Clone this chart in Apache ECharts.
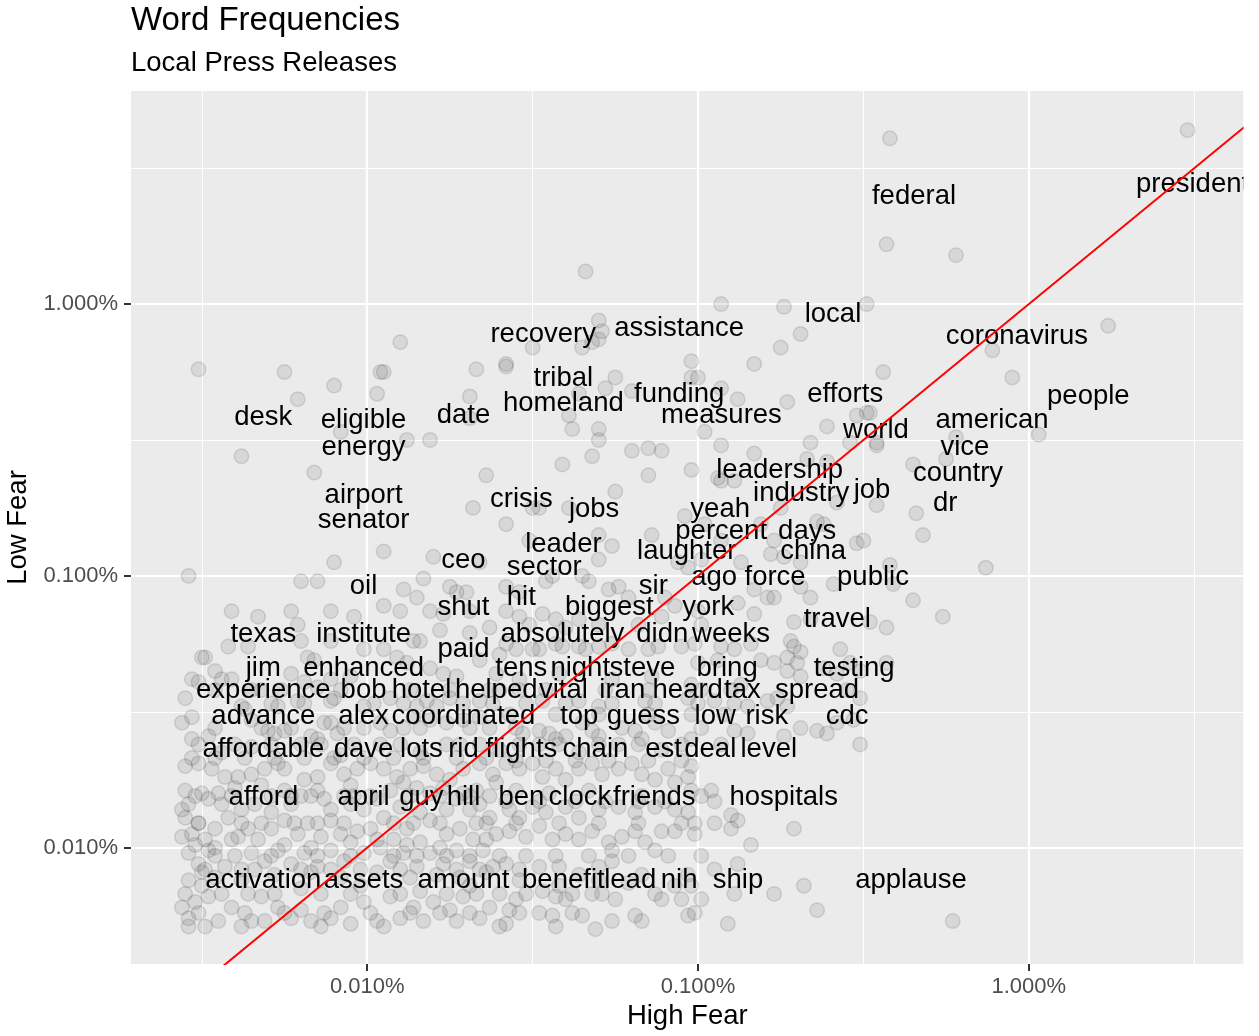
<!DOCTYPE html>
<html><head><meta charset="utf-8">
<script src="https://cdn.jsdelivr.net/npm/echarts@6/dist/echarts.min.js"></script>
<style>html,body{margin:0;padding:0;background:#fff}#c{width:1259px;height:1036px}</style>
</head><body><div id="c"></div>
<script>
// Values are log10 of word proportions (High Fear on x, Low Fear on y)
const words = ['federal','president','local','recovery','assistance','coronavirus','tribal','homeland','funding','measures','efforts','people','desk','eligible','date','american','world','energy','vice','leadership','country','industry','job','airport','crisis','jobs','yeah','dr','senator','percent','days','leader','laughter','china','ceo','sector','oil','sir','ago','force','public','hit','shut','biggest','york','texas','institute','absolutely','didn','weeks','travel','paid','jim','enhanced','tens','night','steve','bring','testing','experience','bob','hotel','helped','vital','iran','heard','tax','spread','advance','alex','coordinated','top','guess','low','risk','cdc','affordable','dave','lots','rid','flights','chain','est','deal','level','afford','april','guy','hill','ben','clock','friends','hospitals','activation','assets','amount','benefit','lead','nih','ship','applause'];
const wordHighFear = [-2.347,-1.505,-2.592,-3.468,-3.057,-2.036,-3.407,-3.407,-3.057,-2.929,-2.555,-1.820,-4.314,-4.011,-3.709,-2.111,-2.462,-4.011,-2.193,-2.753,-2.214,-2.688,-2.474,-4.011,-3.534,-3.314,-2.933,-2.253,-4.011,-2.930,-2.670,-3.407,-3.034,-2.652,-3.709,-3.465,-4.011,-3.135,-2.951,-2.767,-2.471,-3.534,-3.709,-3.268,-2.969,-4.314,-4.011,-3.410,-3.108,-2.900,-2.579,-3.709,-4.314,-4.011,-3.534,-3.356,-3.168,-2.912,-2.528,-4.314,-4.011,-3.836,-3.610,-3.407,-3.229,-3.031,-2.866,-2.640,-4.314,-4.011,-3.709,-3.359,-3.165,-2.948,-2.792,-2.549,-4.314,-4.011,-3.836,-3.709,-3.534,-3.310,-3.104,-2.963,-2.786,-4.314,-4.011,-3.836,-3.709,-3.534,-3.357,-3.132,-2.741,-4.314,-4.011,-3.709,-3.407,-3.205,-3.057,-2.879,-2.356];
const wordLowFear = [-1.529,-1.485,-1.963,-2.037,-2.015,-2.044,-2.199,-2.293,-2.259,-2.335,-2.259,-2.265,-2.342,-2.353,-2.335,-2.353,-2.390,-2.453,-2.453,-2.537,-2.548,-2.622,-2.611,-2.629,-2.644,-2.682,-2.682,-2.659,-2.721,-2.763,-2.763,-2.809,-2.835,-2.835,-2.868,-2.894,-2.966,-2.966,-2.931,-2.931,-2.931,-3.004,-3.043,-3.043,-3.043,-3.141,-3.141,-3.141,-3.141,-3.141,-3.085,-3.198,-3.266,-3.266,-3.266,-3.266,-3.266,-3.266,-3.266,-3.347,-3.347,-3.347,-3.347,-3.347,-3.347,-3.347,-3.347,-3.347,-3.442,-3.442,-3.442,-3.442,-3.442,-3.442,-3.442,-3.442,-3.564,-3.564,-3.564,-3.564,-3.564,-3.564,-3.564,-3.564,-3.564,-3.740,-3.740,-3.740,-3.740,-3.740,-3.740,-3.740,-3.740,-4.046,-4.046,-4.046,-4.046,-4.046,-4.046,-4.046,-4.046];
// jittered word points [High Fear, Low Fear]
const jitteredPoints = [
[-3.34,-1.88],[-2.93,-2.00],[-2.74,-2.01],[-2.49,-2.00],[-2.42,-1.39],[-2.43,-1.78],[-2.22,-1.82],[-1.52,-1.36],
[-4.51,-2.24],[-4.25,-2.25],[-4.21,-2.35],[-4.10,-2.30],[-3.96,-2.25],[-3.95,-2.25],[-3.90,-2.14],[-3.97,-2.33],[-3.67,-2.24],[-3.69,-2.34],[-3.69,-2.42],[-4.08,-2.47],[-3.88,-2.50],[-3.81,-2.50],[-4.38,-2.56],[-4.16,-2.62],[-3.64,-2.63],[-3.68,-2.75],[-3.58,-2.23],
[-3.30,-2.06],[-3.29,-2.10],[-3.30,-2.13],[-3.32,-2.14],[-3.35,-2.16],[-3.50,-2.16],[-3.58,-2.22],[-3.25,-2.27],[-3.28,-2.31],[-3.36,-2.33],[-3.39,-2.41],[-3.38,-2.46],[-3.30,-2.46],[-3.30,-2.50],[-3.32,-2.56],[-3.41,-2.59],[-3.20,-2.54],[-3.15,-2.53],[-3.11,-2.54],[-3.15,-2.63],[-3.02,-2.61],[-3.25,-2.69],[-3.39,-2.75],[-3.50,-2.75],[-3.48,-2.75],[-3.58,-2.81],
[-3.02,-2.21],[-3.00,-2.27],[-3.02,-2.27],[-2.93,-2.31],[-2.88,-2.35],[-3.20,-2.32],[-2.98,-2.47],[-2.93,-2.52],[-2.83,-2.55],[-2.83,-2.22],[-2.75,-2.16],[-2.69,-2.11],[-2.73,-2.36],[-2.61,-2.45],[-2.66,-2.51],[-2.67,-2.57],[-2.61,-2.58],[-2.52,-2.41],[-2.49,-2.40],[-2.54,-2.51],[-2.94,-2.64],[-2.93,-2.65],[-2.89,-2.65],[-2.75,-2.75],[-2.58,-2.73],[-3.04,-2.78],[-2.64,-2.80],[-2.62,-2.81],
[-1.76,-2.08],[-2.11,-2.17],[-2.44,-2.25],[-2.05,-2.27],[-2.48,-2.40],[-2.46,-2.51],[-2.46,-2.52],[-2.22,-2.49],[-1.97,-2.48],[-2.25,-2.57],[-2.35,-2.59],[-2.46,-2.74],[-2.34,-2.77],[-2.32,-2.85],
[-2.42,-2.96],[-2.41,-3.03],[-2.13,-2.97],[-2.35,-3.09],[-2.26,-3.15],[-2.43,-3.19],[-2.48,-3.17],[-2.43,-3.32],
[-4.54,-3.00],[-4.10,-2.95],[-3.95,-2.91],[-4.20,-3.02],[-4.15,-3.02],[-3.80,-2.93],[-3.66,-2.95],[-3.83,-3.01],[-3.89,-3.05],[-3.85,-3.08],[-3.95,-3.11],[-4.04,-3.15],[-4.33,-3.15],[-4.21,-3.18],[-3.75,-3.04],[-3.73,-3.06],[-3.70,-3.06],[-3.69,-3.13],[-3.77,-3.14],[-3.63,-3.19],[-3.69,-3.21],[-3.84,-3.24],[-3.86,-3.24],[-4.11,-3.24],[-4.20,-3.24],[-4.42,-3.26],[-4.36,-3.26],[-4.50,-3.30],[-4.49,-3.30],[-4.46,-3.35],[-4.53,-3.38],[-4.51,-3.39],[-4.44,-3.38],[-4.41,-3.38],[-4.23,-3.36],[-4.18,-3.30],[-4.16,-3.31],[-4.01,-3.27],[-3.95,-3.27],[-3.91,-3.30],[-3.88,-3.32],[-3.81,-3.34],[-3.77,-3.36],[-3.73,-3.37],[-3.66,-3.31],[-3.61,-3.36],[-4.19,-3.39],[-4.15,-3.41],[-4.11,-3.38],
[-4.29,-3.47],[-4.27,-3.48],[-4.21,-3.46],[-4.19,-3.47],[-4.11,-3.46],[-4.10,-3.45],[-4.01,-3.48],[-3.98,-3.47],[-3.93,-3.45],[-3.89,-3.47],[-3.85,-3.48],[-3.82,-3.46],[-3.79,-3.48],[-3.75,-3.45],[-3.71,-3.47],[-3.66,-3.46],[-3.62,-3.47],[-4.56,-3.54],[-4.53,-3.52],[-4.38,-3.48],[-4.37,-3.49],[-4.13,-3.54],[-4.11,-3.54],[-4.01,-3.56],[-3.96,-3.54],[-3.93,-3.57],[-3.89,-3.56],[-4.09,-3.58],[-3.86,-3.52],[-3.81,-3.53],[-3.76,-3.54],[-3.71,-3.53],[-3.66,-3.52],[-3.63,-3.56],[-4.53,-3.60],[-4.48,-3.59],[-4.30,-3.57],[-4.28,-3.58],[-4.25,-3.57],[-4.17,-3.59],[-4.15,-3.60],
[-3.30,-2.94],[-3.26,-2.89],[-3.58,-3.04],[-3.54,-3.06],[-3.46,-3.02],[-3.44,-3.00],[-3.35,-3.00],[-3.33,-3.02],[-3.27,-3.05],[-3.24,-3.04],[-3.21,-3.08],[-3.06,-2.95],[-3.03,-2.97],[-2.99,-2.94],[-2.87,-2.95],[-2.78,-2.92],[-2.74,-2.93],[-2.69,-2.95],[-2.52,-2.88],[-2.50,-2.87],[-2.83,-3.05],[-2.79,-3.08],[-2.77,-3.08],[-2.69,-3.04],[-2.66,-3.08],[-2.59,-3.03],
[-3.47,-3.14],[-3.43,-3.16],[-3.40,-3.19],[-3.36,-3.16],[-3.58,-3.13],[-3.54,-3.15],[-3.10,-3.08],[-3.07,-3.11],[-3.11,-3.15],[-3.00,-3.13],[-2.88,-3.10],[-2.83,-3.14],[-2.71,-3.17],[-2.66,-3.16],[-2.72,-3.24],[-2.71,-3.26],[-2.69,-3.28],[-2.57,-3.27],[-2.73,-3.30],[-2.70,-3.32],[-2.93,-3.26],[-2.89,-3.27],[-2.84,-3.25],[-3.05,-3.26],[-3.01,-3.25],[-3.15,-3.27],[-3.12,-3.26],[-3.21,-3.27],[-3.30,-3.26],[-3.26,-3.25],[-3.36,-3.26],[-3.34,-3.27],[-3.43,-3.25],[-3.41,-3.26],[-3.50,-3.27],[-3.48,-3.27],[-3.58,-3.25],[-3.55,-3.27],
[-3.00,-3.32],[-2.94,-3.31],[-2.81,-3.31],[-2.77,-3.32],[-2.73,-3.35],[-2.69,-3.37],[-2.62,-3.34],[-2.58,-3.36],[-2.54,-3.32],[-2.51,-3.35],[-2.55,-3.42],[-2.51,-3.45],[-2.79,-3.46],[-2.76,-3.45],[-2.73,-3.48],[-2.89,-3.47],[-2.85,-3.48],[-2.95,-3.46],[-3.03,-3.45],[-3.00,-3.47],[-3.16,-3.46],[-3.13,-3.47],[-3.30,-3.48],[-3.26,-3.47],[-3.40,-3.47],[-3.36,-3.46],[-3.52,-3.47],[-3.47,-3.46],
[-2.58,-3.54],[-2.53,-3.53],[-2.69,-3.56],[-2.64,-3.57],[-2.74,-3.59],[-2.89,-3.57],[-2.85,-3.58],[-2.99,-3.56],[-3.13,-3.54],[-3.09,-3.57],[-3.23,-3.56],[-3.19,-3.57],[-3.17,-3.60],[-3.35,-3.54],[-3.32,-3.57],[-3.30,-3.59],[-3.48,-3.57],[-3.45,-3.58],[-3.43,-3.60],[-3.40,-3.59],[-3.55,-3.56],[-3.53,-3.58],[-2.51,-3.62],[-2.61,-3.58],
[-3.51,-2.87],[-3.30,-2.85],[-3.14,-2.85],[-2.98,-2.81],[-2.93,-2.87],[-2.81,-2.81],[-2.77,-2.87],
[-4.44,-3.65],[-4.35,-3.63],[-4.20,-3.62],[-4.08,-3.66],[-3.96,-3.62],[-3.84,-3.65],[-3.72,-3.62],[-3.60,-3.64],[-3.48,-3.62],[-3.36,-3.65],[-3.24,-3.62],[-3.11,-3.64],[-3.02,-3.60],
[-4.55,-3.70],[-4.51,-3.69],[-4.47,-3.71],[-4.43,-3.74],[-4.39,-3.74],[-4.35,-3.73],[-4.31,-3.71],[-4.27,-3.69],[-4.25,-3.71],[-4.19,-3.75],[-4.15,-3.74],[-4.11,-3.69],[-4.07,-3.73],[-4.03,-3.71],[-3.99,-3.69],[-3.95,-3.71],[-3.91,-3.74],[-3.87,-3.71],[-3.83,-3.70],[-3.79,-3.73],[-3.75,-3.75],[-3.71,-3.71],[-3.66,-3.69],[-3.62,-3.73],
[-4.56,-3.86],[-4.54,-3.84],[-4.50,-3.80],[-4.48,-3.82],[-4.45,-3.80],[-4.44,-3.84],[-4.15,-3.79],[-4.13,-3.82],[-4.11,-3.86],[-4.07,-3.81],[-4.01,-3.86],[-3.97,-3.82],[-3.93,-3.79],[-3.89,-3.76],[-3.85,-3.78],[-3.81,-3.80],[-3.71,-3.80],[-3.66,-3.84],[-3.63,-3.89],[-3.61,-3.76],
[-4.55,-3.89],[-4.51,-3.91],[-4.53,-3.95],[-4.49,-3.97],[-4.46,-3.93],[-4.42,-3.89],[-4.39,-3.96],[-4.36,-3.93],[-4.33,-3.97],[-4.29,-3.93],[-4.25,-3.90],[-4.21,-3.95],[-4.18,-3.91],[-4.14,-3.96],[-4.11,-3.90],[-4.08,-3.95],[-4.05,-3.98],[-4.03,-3.94],[-3.99,-3.93],[-3.95,-3.89],[-3.92,-3.97],[-3.88,-3.93],[-3.84,-3.98],[-3.81,-3.90],[-3.76,-3.95],[-3.72,-3.93],[-3.68,-3.97],[-3.64,-3.91],[-3.61,-3.95],
[-4.54,-4.02],[-4.51,-4.06],[-4.48,-4.01],[-4.54,-4.12],[-4.43,-4.07],[-4.35,-4.02],[-4.31,-4.05],[-4.27,-4.01],[-4.23,-4.06],[-4.19,-4.02],[-4.15,-4.07],[-4.11,-4.01],[-4.07,-4.05],[-4.01,-4.02],[-3.96,-4.00],[-3.93,-4.05],[-3.89,-4.02],[-3.85,-4.07],[-3.81,-4.02],[-3.77,-4.06],[-3.73,-4.01],[-3.69,-4.05],[-3.65,-4.01],[-3.62,-4.07],
[-4.56,-4.22],[-4.52,-4.20],[-4.54,-4.26],[-4.48,-4.18],[-4.45,-4.27],[-4.41,-4.22],[-4.36,-4.17],[-4.32,-4.18],[-4.35,-4.27],[-4.31,-4.27],[-4.27,-4.22],[-4.23,-4.26],[-4.20,-4.23],[-4.17,-4.27],[-4.11,-4.26],[-4.08,-4.22],[-4.05,-4.28],[-4.01,-4.20],[-3.97,-4.27],[-3.93,-4.18],[-3.90,-4.26],[-3.86,-4.22],[-3.83,-4.27],[-3.80,-4.20],[-3.75,-4.23],[-3.71,-4.18],[-3.66,-4.26],[-3.63,-4.22],
[-4.50,-4.14],[-4.38,-4.12],[-4.20,-4.15],[-4.02,-4.14],[-3.84,-4.16],[-3.69,-4.14],
[-3.58,-3.69],[-3.54,-3.71],[-3.50,-3.69],[-3.47,-3.74],[-3.43,-3.71],[-3.40,-3.75],[-3.36,-3.71],[-3.32,-3.69],[-3.29,-3.73],[-3.24,-3.71],[-3.20,-3.69],[-3.17,-3.73],[-3.13,-3.75],[-3.09,-3.71],[-3.07,-3.76],[-3.03,-3.74],[-3.02,-3.70],
[-3.57,-3.86],[-3.54,-3.89],[-3.50,-3.85],[-3.46,-3.87],[-3.40,-3.85],[-3.36,-3.89],[-3.30,-3.86],[-3.24,-3.85],[-3.19,-3.87],[-3.13,-3.85],[-3.07,-3.86],[-3.03,-3.87],[-2.99,-3.81],[-2.96,-3.79],[-2.90,-3.88],[-2.88,-3.90],[-3.01,-3.91],
[-3.57,-3.94],[-3.52,-3.96],[-3.48,-3.92],[-3.44,-3.97],[-3.40,-3.95],[-3.36,-3.97],[-3.32,-3.94],[-3.27,-3.98],[-3.23,-3.96],[-3.19,-3.94],[-3.16,-3.98],[-3.13,-4.01],[-3.11,-3.94],[-3.07,-3.94],[-3.01,-3.95],[-2.90,-3.93],[-2.71,-3.93],[-2.84,-3.99],
[-3.58,-4.06],[-3.54,-4.08],[-3.48,-4.07],[-3.42,-4.07],[-3.36,-4.10],[-3.30,-4.07],[-3.26,-4.05],[-3.26,-4.01],[-3.17,-4.10],[-3.13,-4.17],[-3.07,-4.14],[-3.03,-4.10],[-3.02,-4.14],[-2.95,-4.08],[-2.88,-4.06],[-2.77,-4.17],[-2.68,-4.14],[-2.64,-4.23],[-2.91,-4.28],[-3.01,-4.24],[-3.03,-4.25],[-3.19,-4.25],[-3.26,-4.27],[-3.35,-4.25],[-3.38,-4.24],[-3.44,-4.25],[-3.48,-4.24],[-3.54,-4.24],[-3.57,-4.23],[-3.58,-4.28],[-3.52,-4.17],[-3.47,-4.16],[-3.43,-4.18],[-3.38,-4.17],[-3.32,-4.17],[-3.29,-4.17],[-3.21,-4.13],[-2.23,-4.27],
[-4.40,-3.78],[-4.32,-3.77],[-4.25,-3.79],[-4.20,-3.81],[-4.05,-3.77],[-3.77,-3.78],[-3.73,-3.82],[-3.67,-3.79],
[-4.38,-3.86],[-4.34,-3.84],[-4.29,-3.87],[-4.23,-3.84],[-4.05,-3.84],[-3.90,-3.85],[-3.84,-3.87],[-3.76,-3.86],[-3.69,-3.86],
[-4.50,-4.09],[-4.46,-4.11],[-4.38,-4.08],[-4.28,-4.10],[-4.17,-4.09],[-4.08,-4.11],[-3.97,-4.09],[-3.87,-4.11],[-3.79,-4.10],[-3.72,-4.11],[-3.64,-4.09],
[-4.52,-3.99],[-4.46,-4.00],[-4.41,-3.97],[-4.25,-3.99],[-4.17,-4.00],[-3.97,-3.97],[-3.88,-3.99],[-3.78,-4.00],[-3.64,-3.97],
[-4.49,-4.29],[-4.38,-4.29],[-4.14,-4.29],[-3.95,-4.29],[-3.73,-4.27],[-3.60,-4.29],[-3.43,-4.29],[-3.31,-4.30],[-3.17,-4.27],
[-3.54,-4.12],[-3.42,-4.14],[-3.30,-4.12],[-3.11,-4.19],[-2.99,-4.19],[-2.89,-4.17],
[-3.55,-3.79],[-3.45,-3.80],[-3.33,-3.79],[-3.17,-3.81],[-3.02,-3.79],
[-4.55,-3.45],[-4.55,-3.79],[-4.56,-3.96],[-4.55,-4.17],[-4.54,-4.29],
[-3.54,-3.38],[-3.42,-3.36],[-3.26,-3.38],[-3.14,-3.37],[-3.02,-3.40],[-2.87,-3.40],
[-3.78,-3.20],[-3.60,-3.29],[-3.60,-3.42],[-4.05,-3.37],[-4.32,-3.42],[-4.35,-3.53],
[-4.53,-3.67],[-4.46,-3.67],[-4.37,-3.67],[-4.28,-3.67],[-4.19,-3.67],[-4.10,-3.67],[-4.01,-3.67],[-3.92,-3.67],[-3.83,-3.67],[-3.73,-3.67],[-3.64,-3.67],
[-4.52,-3.81],[-4.41,-3.81],[-4.29,-3.81],[-4.23,-3.81],[-4.17,-3.81],[-4.04,-3.81],[-3.99,-3.81],[-3.87,-3.81],[-3.78,-3.81],[-3.69,-3.81],[-3.63,-3.81],
[-4.51,-3.91],[-4.38,-3.91],[-4.32,-3.91],[-4.22,-3.91],[-4.15,-3.91],[-4.07,-3.91],[-3.92,-3.91],[-3.86,-3.91],[-3.78,-3.91],[-3.67,-3.91],
[-4.46,-4.03],[-4.40,-4.03],[-4.29,-4.03],[-4.15,-4.03],[-4.05,-4.03],[-3.92,-4.03],[-3.85,-4.03],[-3.76,-4.03],[-3.69,-4.03],[-3.60,-4.03],
[-4.49,-4.08],[-4.34,-4.08],[-4.20,-4.08],[-4.11,-4.08],[-4.02,-4.08],[-3.90,-4.08],[-3.73,-4.08],[-3.66,-4.08],
[-4.44,-4.17],[-4.28,-4.17],[-4.14,-4.17],[-4.05,-4.17],[-3.90,-4.17],[-3.76,-4.17],[-3.67,-4.17],[-3.60,-4.17],
[-4.51,-4.24],[-4.37,-4.24],[-4.25,-4.24],[-4.13,-4.24],[-3.99,-4.24],[-3.87,-4.24],[-3.78,-4.24],[-3.69,-4.24],
[-3.55,-3.68],[-3.46,-3.68],[-3.37,-3.68],[-3.27,-3.68],[-3.15,-3.68],[-3.05,-3.68],
[-3.58,-3.83],[-3.48,-3.83],[-3.37,-3.83],[-3.28,-3.83],[-3.18,-3.83],[-3.10,-3.83],[-2.95,-3.83],
[-3.55,-3.91],[-3.42,-3.91],[-3.30,-3.91],[-3.18,-3.91],[-3.05,-3.91],[-2.95,-3.91],
[-3.52,-4.03],[-3.43,-4.03],[-3.33,-4.03],[-3.21,-4.03],[-3.09,-4.03],[-2.99,-4.03],
[-3.55,-4.19],[-3.40,-4.19],[-3.25,-4.19],[-3.05,-4.19],
[-4.41,-3.13],[-4.23,-3.13],[-4.11,-3.13],[-3.90,-3.13],[-3.81,-3.13],
[-4.46,-3.42],[-4.35,-3.42],[-4.26,-3.42],[-4.08,-3.42],[-3.87,-3.42],[-3.75,-3.42],[-3.63,-3.42],
[-4.46,-3.56],[-4.32,-3.56],[-4.23,-3.56],[-4.07,-3.56],[-3.84,-3.56],[-3.69,-3.56],
[-4.51,-3.62],[-4.40,-3.62],[-4.29,-3.62],[-4.14,-3.62],[-4.04,-3.62],[-3.90,-3.62],[-3.76,-3.62],[-3.66,-3.62],
[-3.51,-3.18],[-3.30,-3.18],[-3.18,-3.18],[-2.99,-3.18],
[-3.54,-3.42],[-3.46,-3.42],[-3.28,-3.42],[-3.15,-3.42],[-2.99,-3.42],[-2.90,-3.42],
[-3.57,-3.51],[-3.43,-3.51],[-3.30,-3.51],[-3.15,-3.51],[-3.02,-3.51],[-2.92,-3.51],
[-3.54,-3.62],[-3.42,-3.62],[-3.30,-3.62],[-3.18,-3.62],[-3.05,-3.62],[-2.93,-3.62]
];
const xRange = [-4.714, -1.351];
const yRange = [-4.428, -1.216];
const majorBreaks = [-4, -3, -2];
const majorBreakLabels = ['0.010%', '0.100%', '1.000%'];
const minorBreaksX = [-4.5, -3.5, -2.5, -1.5];
const minorBreaksY = [-3.5, -2.5, -1.5];
const identityLineEnds = [-5, -1]; // y = x reference line

const FONT = 'Liberation Sans';
function breakLabel(v) {
  const i = majorBreaks.findIndex(b => Math.abs(b - v) < 1e-9);
  return i >= 0 ? majorBreakLabels[i] : '';
}
const wordData = words.map((w, i) => ({ name: w, value: [wordHighFear[i], wordLowFear[i]] }));

function mainAxis(range, isX) {
  return {
    type: 'value', min: range[0], max: range[1],
    position: isX ? 'bottom' : 'left',
    axisLine: { show: false },
    axisTick: { show: true, length: 7, customValues: majorBreaks, lineStyle: { color: '#333333', width: 2 } },
    axisLabel: { show: true, customValues: majorBreaks, formatter: breakLabel, color: '#4D4D4D', fontSize: 22, fontFamily: FONT, margin: isX ? 12 : 13 },
    splitLine: { show: true, lineStyle: { color: '#FFFFFF', width: 2.2 } },
    name: isX ? 'High Fear' : 'Low Fear',
    nameLocation: 'middle',
    nameGap: isX ? 38 : 95,
    nameRotate: isX ? 0 : 90,
    nameTextStyle: { fontSize: 27.5, color: '#000', fontFamily: FONT }
  };
}
function minorAxis(range, isX, ticks) {
  return {
    type: 'value', min: range[0], max: range[1],
    position: isX ? 'bottom' : 'left',
    axisLine: { show: false },
    axisTick: { show: false, customValues: ticks },
    axisLabel: { show: false, customValues: ticks },
    splitLine: { show: true, lineStyle: { color: '#FFFFFF', width: 1.1 } }
  };
}

const chart = echarts.init(document.getElementById('c'), null, { renderer: 'canvas' });
chart.setOption({
  backgroundColor: '#FFFFFF',
  animation: false,
  textStyle: { fontFamily: FONT },
  title: [
    { text: 'Word Frequencies', left: 131, top: 4, padding: 0, textStyle: { fontSize: 33, fontWeight: 'normal', color: '#000', fontFamily: FONT } },
    { text: 'Local Press Releases', left: 131, top: 49, padding: 0, textStyle: { fontSize: 27.5, fontWeight: 'normal', color: '#000', fontFamily: FONT } }
  ],
  grid: { left: 131, right: 15.5, top: 91, bottom: 72, show: true, backgroundColor: '#EBEBEB', borderWidth: 0, outerBoundsMode: 'none', containLabel: false },
  xAxis: [mainAxis(xRange, true), minorAxis(xRange, true, minorBreaksX)],
  yAxis: [mainAxis(yRange, false), minorAxis(yRange, false, minorBreaksY)],
  series: [
    {
      type: 'scatter', name: 'points', xAxisIndex: 0, yAxisIndex: 0,
      data: jitteredPoints, symbol: 'circle', symbolSize: 14.5, z: 2, silent: true, large: false,
      itemStyle: { color: 'rgba(0,0,0,0.1)', borderColor: 'rgba(0,0,0,0.14)', borderWidth: 1.5 }
    },
    {
      type: 'scatter', name: 'words', xAxisIndex: 0, yAxisIndex: 0,
      data: wordData, symbol: 'circle', symbolSize: 0.01, z: 3, silent: true,
      itemStyle: { color: '#000000' },
      label: { show: true, position: 'inside', offset: [0, 20], formatter: p => p.name, fontSize: 27.5, color: '#000000', opacity: 1, textBorderWidth: 0, textShadowBlur: 0, fontFamily: FONT }
    },
    {
      type: 'line', name: 'identity', xAxisIndex: 0, yAxisIndex: 0,
      data: identityLineEnds.map(v => [v, v]), symbol: 'none', clip: true, z: 4, silent: true,
      lineStyle: { color: '#FF0000', width: 2 }
    }
  ],
  graphic: [
    { type: 'rect', left: 1243.5, top: 91, shape: { width: 20, height: 873 }, style: { fill: '#FFFFFF' }, z: 100, silent: true }
  ]
});
</script>
</body></html>
